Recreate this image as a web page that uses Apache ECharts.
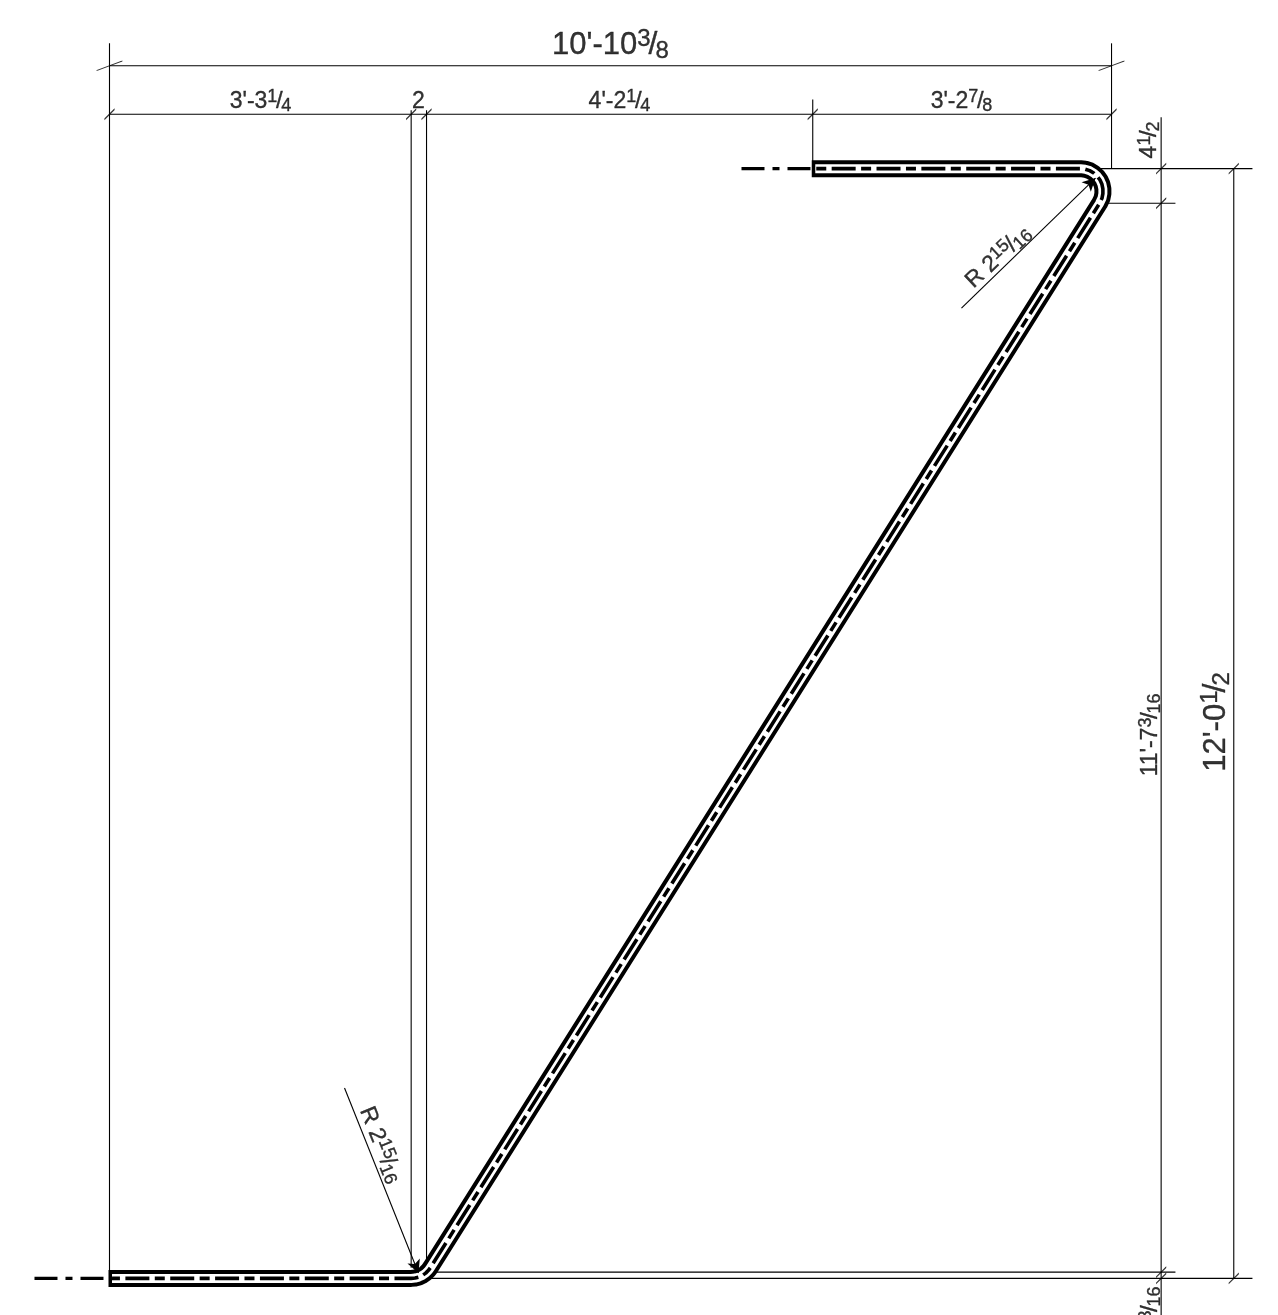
<!DOCTYPE html>
<html>
<head>
<meta charset="utf-8">
<style>html,body{margin:0;padding:0;background:#fff}#c{width:1278px;height:1315px}</style>
<script src="https://cdn.jsdelivr.net/npm/echarts@6/dist/echarts.min.js"></script>
</head>
<body>
<div id="c"></div>
<script>
const lowerBend = [[39.25,0],[39.76,0.045],[40.26,0.177],[40.72,0.394],[41.14,0.688],[41.50,1.05],[41.74,1.382]];
const upperBend = [[128.82,139.99],[129.13,140.64],[129.25,141.24],[129.25,141.86],[129.13,142.46],[128.88,143.02],[128.51,143.52],[128.06,143.93],[127.53,144.24],[126.94,144.43],[126.33,144.5]];
const barOuterEnds = [[-0.13,0],[91.37,144.5]];
const barInnerEnds = [[0.33,0],[91.83,144.5]];
const breakLines = [[[-9.76,0],[-0.78,0]],[[82.23,144.5],[91.2,144.5]]];

const dimensionLines = [
  [[0,160.82],[0,1.1]],
  [[130.375,160.82],[130.375,144.5]],
  [[0,157.9],[130.375,157.9]],
  [[0,151.58],[130.375,151.58]],
  [[39.25,152.1],[39.25,1.4]],
  [[41.25,152.1],[41.25,0.8125]],
  [[91.5,153.5],[91.5,144.5]],
  [[128.8,144.5],[148.71,144.5]],
  [[128.82,140],[138.69,140]],
  [[136.83,151.19],[136.83,-4.76]],
  [[146.28,144.5],[146.28,0]],
  [[41,0.8125],[138.69,0.8125]],
  [[41,0],[148.71,0]]
];
const overallTicks = [[0,157.9],[130.375,157.9]];
const dimensionTicks = [[0,151.58],[39.25,151.58],[41.25,151.58],[91.5,151.58],[130.375,151.58],
  [136.83,144.5],[136.83,140],[146.28,144.5],[136.83,0.8125],[136.83,0],[146.28,0]];
const radiusLeaders = [[[110.85,126.35],[128.29,143.28]],[[30.58,24.79],[40.2,0.7]]];

const labelTexts = [
  ["10'-10","3","8"],["3'-3","1","4"],["2","",""],["4'-2","1","4"],["3'-2","7","8"],
  ["4","1","2"],["R 2","15","16"],["R 2","15","16"],["11'-7","3","16"],["12'-0","1","2"],["1","3","16"]
];
const labelAnchors = [[65.18,160.53],[19.65,153.22],[40.2,153.22],[66.35,153.22],[110.85,153.22],
  [135.31,148.23],[115.66,133.0],[35.26,17.37],[135.44,70.76],[144.03,72.45],[135.44,-4.11]];
const labelRotations = [0,0,0,0,0,90,43,-68,90,90,90];
const labelLarge = [true,false,false,false,false,false,false,false,false,true,false];

const barOuter = [barOuterEnds[0],...lowerBend,...upperBend,barOuterEnds[1]];
const barInner = [barInnerEnds[0],...lowerBend,...upperBend,barInnerEnds[1]];

function pathSeries(data, width, color, extra){
  return Object.assign({type:'line',data,showSymbol:false,symbol:'none',silent:true,clip:false,animation:false,
    lineStyle:{width,color,cap:'butt',join:'round'}},extra||{});
}
const series = [];
dimensionLines.forEach(s=>series.push(pathSeries(s,1.1,'#000')));
series.push({type:'scatter',data:overallTicks,silent:true,animation:false,symbol:'path://M0 9L24 0L24 0.01L0 9.01Z',symbolSize:[24,9],
  itemStyle:{color:'#000',borderColor:'#000',borderWidth:1.1}});
series.push({type:'scatter',data:dimensionTicks,silent:true,animation:false,symbol:'path://M0 10L10 0L10 0.01L0 10.01Z',symbolSize:[9,9],
  itemStyle:{color:'#000',borderColor:'#000',borderWidth:1.2}});
series.push(pathSeries(barOuter,17,'#000'));
series.push(pathSeries(barInner,9,'#fff'));
const centre = pathSeries(barInner,3.6,'#000');
centre.lineStyle.type=[24,5.4,10,5.45]; centre.lineStyle.dashOffset=31.5;
series.push(centre);
breakLines.forEach(s=>{const b=pathSeries(s,3.4,'#000');b.lineStyle.type=[23,8,7,8];series.push(b);});
series.push(pathSeries([], 1, '#000', {markLine:{silent:true,animation:false,symbol:['none','arrow'],symbolSize:[10,13],label:{show:false},
  lineStyle:{color:'#000',width:1.1,type:'solid'},
  data:radiusLeaders.map(l=>[{coord:l[0]},{coord:l[1]}])}}));

function rich(t,large){
  const p=large?'L':'S';
  let s='';
  if(t[0]) s+='{'+p+'b|'+t[0]+'}';
  if(t[1]) s+='{'+p+'n|'+t[1]+'}{'+p+'s|/}{'+p+'d|'+t[2]+'}';
  return s;
}
const ink={color:'#000',textBorderColor:'#000',textBorderWidth:0.35};
const richStyles={
  Sb:Object.assign({fontSize:23,lineHeight:27,verticalAlign:'middle'},ink),
  Sn:Object.assign({fontSize:18,lineHeight:18,verticalAlign:'top'},ink),
  Ss:Object.assign({fontSize:24,lineHeight:27,width:4,verticalAlign:'middle'},ink),
  Sd:Object.assign({fontSize:18,lineHeight:18,verticalAlign:'bottom'},ink),
  Lb:Object.assign({fontSize:31,lineHeight:36,verticalAlign:'middle'},ink),
  Ln:Object.assign({fontSize:24,lineHeight:24,verticalAlign:'top'},ink),
  Ls:Object.assign({fontSize:32,lineHeight:36,width:5,verticalAlign:'middle'},ink),
  Ld:Object.assign({fontSize:24,lineHeight:24,verticalAlign:'bottom'},ink)
};
labelTexts.forEach((t,i)=>{
  series.push({type:'scatter',silent:true,animation:false,clip:false,symbolSize:1,itemStyle:{color:'transparent'},
    data:[labelAnchors[i]],
    label:{show:true,position:'inside',rotate:labelRotations[i],color:'#000',fontFamily:'Liberation Sans',
      formatter:rich(t,labelLarge[i]),rich:richStyles}});
});

const chart = echarts.init(document.getElementById('c'),null,{renderer:'canvas',width:1278,height:1315});
chart.setOption({
  backgroundColor:'#fff',animation:false,
  grid:{left:0,right:0,top:0,bottom:0},
  xAxis:{type:'value',show:false,min:-14.247,max:152.035},
  yAxis:{type:'value',show:false,min:-4.766,max:166.46},
  series
});
</script>
</body>
</html>
